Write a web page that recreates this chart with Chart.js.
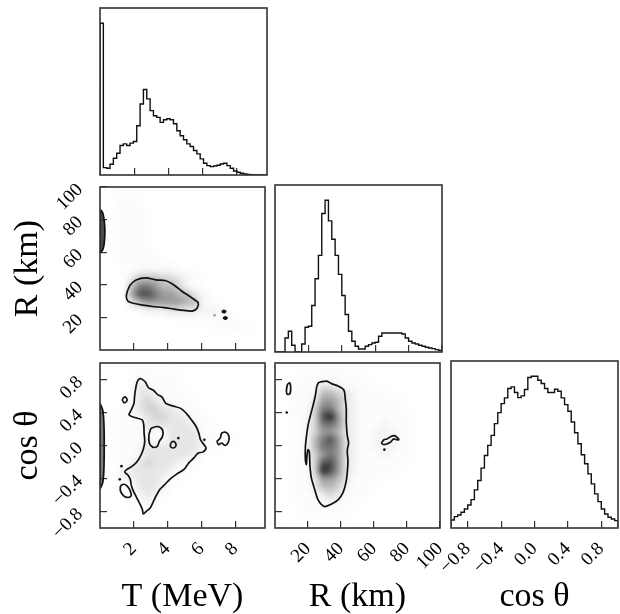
<!DOCTYPE html>
<html>
<head>
<meta charset="utf-8">
<script src="https://cdn.jsdelivr.net/npm/chart.js@4"></script>
<style>
  html, body { margin: 0; padding: 0; background: #fff; }
  #page { position: relative; width: 620px; height: 614px; overflow: hidden; background: #fff; }
  canvas { position: absolute; }
  .dens { position: absolute; overflow: hidden; }
  .dens canvas { left: 0; top: 0; filter: blur(3px); }
</style>
</head>
<body>
<div id="page"></div>
<script>
// ── Parameter ranges & ticks ────────────────────────────────────

const T_RANGE   = [0, 9.77];
const R_RANGE   = [0, 100];
const COS_RANGE = [-1, 1];

const T_TICKS   = [2, 4, 6, 8];
const R_TICKS   = [20, 40, 60, 80, 100];
const COS_TICKS = [-0.8, -0.4, 0.0, 0.4, 0.8];

// ── 1D histograms (50 bins each, counts) ────────────────────────

const T_COUNTS = [453, 22, 20, 32, 50, 65, 88, 93, 88, 95, 100, 147, 212, 255, 227, 192, 177, 172, 157, 165,
                  168, 165, 153, 132, 117, 105, 93, 85, 73, 63, 48, 35, 28, 25, 27, 29, 33, 35, 28, 20,
                  12, 8, 5, 3, 2, 1, 0, 0, 0, 0];

const R_COUNTS = [0, 0, 0, 42, 62, 20, 0, 0, 24, 74, 77, 139, 219, 289, 414, 454, 392, 337, 289, 232,
                  169, 112, 62, 32, 17, 9, 9, 17, 22, 27, 29, 47, 57, 57, 57, 57, 57, 57, 54, 42,
                  32, 27, 24, 20, 17, 14, 12, 10, 7, 5];

const COS_COUNTS = [24, 34, 39, 47, 57, 69, 85, 114, 142, 179, 217, 247, 277, 312, 345, 372, 389, 417, 422, 405,
                    390, 395, 414, 450, 454, 454, 442, 432, 417, 405, 405, 415, 409, 389, 369, 349, 317, 285, 252, 219,
                    192, 162, 132, 102, 79, 57, 42, 32, 27, 22];

// ── 2D density (20x20, rows top→bottom, 0 = empty … 9 = darkest) ─

const DENS_T_R = [
  "01110000000000000000",
  "01110000000000000000",
  "01111000000000000000",
  "01111000000000000000",
  "01111000000000000000",
  "01111000000000000000",
  "01111000000000000000",
  "01111100000000000000",
  "01111110000000000000",
  "00111111100000000000",
  "00112222211100000000",
  "00135554432110000000",
  "00157765542110000000",
  "00168876655321000000",
  "00035666665521100000",
  "00001222333322210000",
  "00000000011111111000",
  "00000000000001111110",
  "00000000000000000000",
  "00000000000000000000",
];

const DENS_T_COS = [
  "00011111100000000000",
  "00011111110000000000",
  "00013211110000000000",
  "00013321111000000000",
  "00113432111100000000",
  "00123443321100000000",
  "01112344332110000000",
  "01111333333211000000",
  "01111211333311110000",
  "01111211333321111000",
  "01112333333321100000",
  "01112333333210000000",
  "01123433321100000000",
  "01233333211000000000",
  "01223332110000000000",
  "01113332100000000000",
  "00112321000000000000",
  "00011210000000000000",
  "00001100000000000000",
  "00000000000000000000",
];

const DENS_R_COS = [
  "00111111111000000000",
  "00111111111000000000",
  "01111332111100000000",
  "01112554321111000000",
  "01113665321111110000",
  "01114775321111110000",
  "01124896321111111000",
  "01124776321112111000",
  "01124665321122211000",
  "01125786321122211000",
  "01125776321122211000",
  "01124676321112111000",
  "01114886321111110000",
  "01114986321111100000",
  "01113665311110000000",
  "01113554211100000000",
  "01111343111000000000",
  "00111121110000000000",
  "00111111100000000000",
  "00000000000000000000",
];

// ── Contours ([x, y] in data units) ─────────────────────────────

const T_R_MAIN = [[1.60, 35.5], [1.79, 39.9], [2.14, 43.0], [2.73, 44.2], [3.31, 43.0], [3.90, 42.5], [4.29, 40.5],
  [4.68, 37.5], [4.97, 35.1], [5.17, 33.9], [5.56, 31.1], [5.81, 29.1], [5.75, 25.6], [5.46, 23.9], [4.97, 24.3],
  [4.39, 25.1], [3.80, 26.0], [3.12, 26.7], [2.53, 27.5], [2.05, 28.5], [1.66, 29.9], [1.56, 32.5], [1.60, 35.5]];
const T_R_EDGE = [[0, 86.3], [0.16, 84.2], [0.25, 79.3], [0.29, 73.3], [0.25, 65.4], [0.16, 61.4], [0, 59.8], [0, 86.3]];
const T_R_DOT_A = [[7.21, 23.6], [7.33, 24.4], [7.45, 23.6], [7.33, 22.8], [7.21, 23.6]];
const T_R_DOT_B = [[7.29, 19.6], [7.41, 20.4], [7.53, 19.6], [7.41, 18.8], [7.29, 19.6]];
const T_R_SPECKS = [[6.78, 21.3]];

const T_COS_MAIN = [[2.44, 0.81], [2.69, 0.77], [2.87, 0.70], [3.16, 0.67], [3.39, 0.62], [3.66, 0.59], [3.90, 0.51],
  [4.29, 0.48], [4.78, 0.45], [5.11, 0.39], [5.42, 0.31], [5.69, 0.23], [5.85, 0.15], [5.95, 0.07], [6.08, 0.03],
  [6.28, -0.03], [6.08, -0.08], [5.81, -0.09], [5.56, -0.15], [5.26, -0.21], [4.97, -0.29], [4.52, -0.35],
  [4.13, -0.41], [3.80, -0.48], [3.55, -0.53], [3.35, -0.60], [3.16, -0.68], [2.96, -0.76], [2.73, -0.80],
  [2.57, -0.83], [2.50, -0.77], [2.34, -0.70], [2.14, -0.62], [1.95, -0.54], [1.85, -0.48], [1.79, -0.41],
  [1.66, -0.36], [1.46, -0.32], [1.60, -0.29], [1.91, -0.25], [2.18, -0.20], [2.42, -0.12], [2.57, -0.04],
  [2.65, 0.05], [2.61, 0.15], [2.59, 0.25], [2.50, 0.31], [2.05, 0.34], [1.72, 0.37], [1.85, 0.43], [2.01, 0.51],
  [2.05, 0.60], [2.11, 0.69], [2.20, 0.77], [2.34, 0.81], [2.44, 0.81]];
const T_COS_HOLE = [[3.02, 0.21], [3.41, 0.23], [3.70, 0.19], [3.70, 0.11], [3.51, 0.05], [3.39, -0.01], [3.12, -0.02],
  [2.92, 0.03], [2.90, 0.13], [3.02, 0.21]];
const T_COS_RING = [[4.19, 0.03], [4.33, 0.05], [4.48, 0.03], [4.48, -0.01], [4.33, -0.03], [4.17, -0.01], [4.19, 0.03]];
const T_COS_UPPER = [[1.35, 0.57], [1.48, 0.59], [1.60, 0.56], [1.56, 0.53], [1.42, 0.52], [1.33, 0.55], [1.35, 0.57]];
const T_COS_RIGHT = [[6.92, 0.05], [7.12, 0.09], [7.21, 0.15], [7.45, 0.16], [7.64, 0.11], [7.60, 0.04], [7.41, 0.00],
  [7.21, 0.03], [7.02, 0.01], [6.92, 0.05]];
const T_COS_LOWER = [[1.21, -0.49], [1.40, -0.47], [1.60, -0.49], [1.79, -0.55], [1.85, -0.61], [1.66, -0.63],
  [1.40, -0.61], [1.21, -0.55], [1.21, -0.49]];
const T_COS_EDGE = [[0, 0.51], [0.16, 0.43], [0.23, 0.27], [0.25, 0.0], [0.23, -0.29], [0.16, -0.45], [0, -0.52], [0, 0.51]];
const T_COS_SPECKS = [[4.64, 0.09], [6.18, 0.07], [1.27, -0.25], [1.17, -0.41]];

const R_COS_MAIN = [[27.3, 0.77], [31.3, 0.78], [34.3, 0.75], [38.2, 0.72], [41.8, 0.67], [42.6, 0.56], [43.2, 0.44],
  [43.2, 0.28], [43.8, 0.12], [44.6, 0.03], [43.8, -0.06], [44.2, -0.19], [43.8, -0.33], [43.0, -0.45], [41.2, -0.57],
  [38.2, -0.66], [34.3, -0.71], [30.3, -0.74], [27.9, -0.71], [25.9, -0.65], [24.0, -0.53], [22.0, -0.39],
  [21.2, -0.25], [20.8, -0.08], [20.0, -0.05], [19.4, -0.12], [19.0, -0.23], [18.4, -0.17], [18.4, -0.02],
  [19.0, 0.10], [20.0, 0.24], [21.4, 0.36], [23.0, 0.48], [24.4, 0.60], [25.3, 0.71], [26.3, 0.76], [27.3, 0.77]];
const R_COS_UPPER = [[7.5, 0.74], [8.9, 0.76], [9.5, 0.70], [9.1, 0.63], [7.5, 0.62], [6.9, 0.66], [7.5, 0.74]];
const R_COS_RIGHT = [[64.4, 0.03], [66.0, 0.07], [67.9, 0.08], [70.3, 0.11], [72.3, 0.12], [73.9, 0.10], [75.1, 0.07],
  [73.5, 0.07], [71.9, 0.08], [69.9, 0.04], [67.9, 0.02], [66.0, 0.01], [64.4, 0.03]];
const R_COS_SPECKS = [[66.3, -0.05], [7.1, 0.40]];

// ── Layout ──────────────────────────────────────────────────────

const COL_X = [100, 275, 451];
const ROW_Y = [8, 185, 361];
const BOX = 167;
const SERIF = "'Liberation Serif', 'DejaVu Serif', serif";

Chart.defaults.font.family = SERIF;

const page = document.getElementById("page");

const fmtInt = v => String(v);
const fmtCos = v => v.toFixed(1).replace("-", "\u2212");
const gray = d => { const g = Math.round(255 - 2.8 * d * d); return `rgb(${g},${g},${g})`; };

function addCanvas(parent, left, top, w, h) {
  const c = document.createElement("canvas");
  c.width = w;
  c.height = h;
  c.style.left = left + "px";
  c.style.top = top + "px";
  c.style.width = w + "px";
  c.style.height = h + "px";
  parent.appendChild(c);
  return c;
}

const framePlugin = {
  id: "frame",
  afterDraw(chart) {
    const { ctx, chartArea: a } = chart;
    ctx.save();
    ctx.strokeStyle = "#333";
    ctx.lineWidth = 1.6;
    ctx.strokeRect(a.left, a.top, a.right - a.left, a.bottom - a.top);
    ctx.restore();
  },
};

// ── Axis helper ─────────────────────────────────────────────────

function axis({ range, ticks, fmt, labels, title, horizontal, size }) {
  return {
    type: "linear",
    min: range[0],
    max: range[1],
    afterBuildTicks: s => { s.ticks = ticks.map(v => ({ value: v })); },
    afterFit: s => {
      if (horizontal) s.height = size; else s.width = size;
      s.paddingLeft = s.paddingRight = s.paddingTop = s.paddingBottom = 0;
    },
    grid: { display: true, drawOnChartArea: false, drawTicks: true, tickLength: -7, color: "#333", lineWidth: 1.2 },
    border: { display: false },
    ticks: {
      display: !!labels,
      autoSkip: false,
      minRotation: 45,
      maxRotation: 45,
      padding: horizontal ? 17 : 27,
      color: "#000",
      font: { family: SERIF, size: 19 },
      callback: v => fmt(v),
    },
    title: {
      display: !!title,
      text: title || "",
      color: "#000",
      font: { family: SERIF, size: 34, lineHeight: 1 },
      padding: { top: 11, bottom: 0 },
    },
  };
}

// ── Datasets ────────────────────────────────────────────────────

function histDataset(counts, range) {
  const w = (range[1] - range[0]) / counts.length;
  const pts = [{ x: range[0], y: 0 }];
  counts.forEach((c, i) => pts.push({ x: range[0] + i * w, y: c }));
  pts.push({ x: range[1], y: counts[counts.length - 1] });
  pts.push({ x: range[1], y: 0 });
  return { data: pts, showLine: true, stepped: "before", borderColor: "#111", borderWidth: 1.4, pointRadius: 0, fill: false };
}

function contour(pts, extra) {
  return Object.assign({
    data: pts.map(([x, y]) => ({ x, y })),
    showLine: true,
    borderColor: "#111",
    borderWidth: 1.7,
    pointRadius: 0,
    tension: 0.3,
    fill: false,
  }, extra || {});
}

function specks(pts, color) {
  return { data: pts.map(([x, y]) => ({ x, y })), showLine: false, pointRadius: 1.3, pointBackgroundColor: color, borderWidth: 0 };
}

// ── Density layer (blurred, under the panel) ────────────────────

function densityLayer(col, row, grid, xr, yr) {
  const wrap = document.createElement("div");
  wrap.className = "dens";
  wrap.style.left = COL_X[col] + "px";
  wrap.style.top = ROW_Y[row] + "px";
  wrap.style.width = BOX + "px";
  wrap.style.height = BOX + "px";
  page.appendChild(wrap);
  const cv = addCanvas(wrap, 0, 0, BOX, BOX);

  const nRows = grid.length, nCols = grid[0].length;
  const dx = (xr[1] - xr[0]) / nCols, dy = (yr[1] - yr[0]) / nRows;
  const cells = [];
  grid.forEach((line, j) => {
    [...line].forEach((ch, i) => {
      const d = +ch;
      if (!d) return;
      cells.push({ x: xr[0] + (i + 0.5) * dx, y: yr[1] - (j + 0.5) * dy, d });
    });
  });

  new Chart(cv, {
    type: "scatter",
    data: {
      datasets: [{
        data: cells,
        pointStyle: "rect",
        pointRadius: (BOX / nCols + 1) / Math.SQRT2,
        pointBackgroundColor: c => gray(c.raw ? c.raw.d : 0),
        borderWidth: 0,
      }],
    },
    options: {
      responsive: false, animation: false, events: [],
      layout: { padding: 0 },
      plugins: { legend: { display: false }, tooltip: { enabled: false } },
      scales: {
        x: { type: "linear", display: false, min: xr[0], max: xr[1] },
        y: { type: "linear", display: false, min: yr[0], max: yr[1] },
      },
    },
  });
}

// ── Panel (frame, ticks, labels, lines) ─────────────────────────

function panel({ col, row, x, y, datasets }) {
  const left = col === 0 && y.labels ? 100 : 0;
  const bottom = row === 2 ? 86 : 0;
  const padL = left ? 0 : (row === 2 ? 40 : 2);   // room for rotated x labels hanging left
  const padB = bottom ? 0 : 2;
  const cv = addCanvas(page, COL_X[col] - left - padL, ROW_Y[row] - 2,
                       left + padL + BOX + 2, 2 + BOX + bottom + padB);

  const yScale = y.hidden
    ? { type: "linear", display: false, min: y.range[0], max: y.range[1] }
    : axis({ ...y, horizontal: false, size: left });

  new Chart(cv, {
    type: "scatter",
    data: { datasets },
    options: {
      responsive: false, animation: false, events: [],
      layout: { padding: { left: padL, right: 2, top: 2, bottom: padB } },
      plugins: { legend: { display: false }, tooltip: { enabled: false } },
      scales: { x: axis({ ...x, horizontal: true, size: bottom }), y: yScale },
    },
    plugins: [framePlugin],
  });
}

const histMax = counts => 1.1 * Math.max(...counts);

// density first so the panels sit on top
densityLayer(0, 1, DENS_T_R, T_RANGE, R_RANGE);
densityLayer(0, 2, DENS_T_COS, T_RANGE, COS_RANGE);
densityLayer(1, 2, DENS_R_COS, R_RANGE, COS_RANGE);

// T histogram
panel({
  col: 0, row: 0,
  x: { range: T_RANGE, ticks: T_TICKS, fmt: fmtInt },
  y: { hidden: true, range: [0, histMax(T_COUNTS)] },
  datasets: [histDataset(T_COUNTS, T_RANGE)],
});

// R histogram
panel({
  col: 1, row: 1,
  x: { range: R_RANGE, ticks: R_TICKS, fmt: fmtInt },
  y: { hidden: true, range: [0, histMax(R_COUNTS)] },
  datasets: [histDataset(R_COUNTS, R_RANGE)],
});

// cos θ histogram
panel({
  col: 2, row: 2,
  x: { range: COS_RANGE, ticks: COS_TICKS, fmt: fmtCos, labels: true, title: "cos \u03b8" },
  y: { hidden: true, range: [0, histMax(COS_COUNTS)] },
  datasets: [histDataset(COS_COUNTS, COS_RANGE)],
});

// T vs R
panel({
  col: 0, row: 1,
  x: { range: T_RANGE, ticks: T_TICKS, fmt: fmtInt },
  y: { range: R_RANGE, ticks: R_TICKS, fmt: fmtInt, labels: true, title: "R (km)" },
  datasets: [
    contour(T_R_EDGE, { fill: "shape", backgroundColor: "rgba(45,45,45,0.85)", tension: 0.2 }),
    contour(T_R_MAIN),
    contour(T_R_DOT_A, { fill: "shape", backgroundColor: "#111", borderWidth: 1.5 }),
    contour(T_R_DOT_B, { fill: "shape", backgroundColor: "#111", borderWidth: 1.5 }),
    specks(T_R_SPECKS, "#999"),
  ],
});

// T vs cos θ
panel({
  col: 0, row: 2,
  x: { range: T_RANGE, ticks: T_TICKS, fmt: fmtInt, labels: true, title: "T (MeV)" },
  y: { range: COS_RANGE, ticks: COS_TICKS, fmt: fmtCos, labels: true, title: "cos \u03b8" },
  datasets: [
    contour(T_COS_EDGE, { fill: "shape", backgroundColor: "rgba(70,70,70,0.7)", tension: 0.2 }),
    contour(T_COS_MAIN),
    contour(T_COS_HOLE),
    contour(T_COS_RING),
    contour(T_COS_UPPER),
    contour(T_COS_RIGHT),
    contour(T_COS_LOWER),
    specks(T_COS_SPECKS, "#111"),
  ],
});

// R vs cos θ
panel({
  col: 1, row: 2,
  x: { range: R_RANGE, ticks: R_TICKS, fmt: fmtInt, labels: true, title: "R (km)" },
  y: { range: COS_RANGE, ticks: COS_TICKS, fmt: fmtCos },
  datasets: [
    contour(R_COS_MAIN),
    contour(R_COS_UPPER),
    contour(R_COS_RIGHT),
    specks(R_COS_SPECKS, "#111"),
  ],
});
</script>
</body>
</html>
